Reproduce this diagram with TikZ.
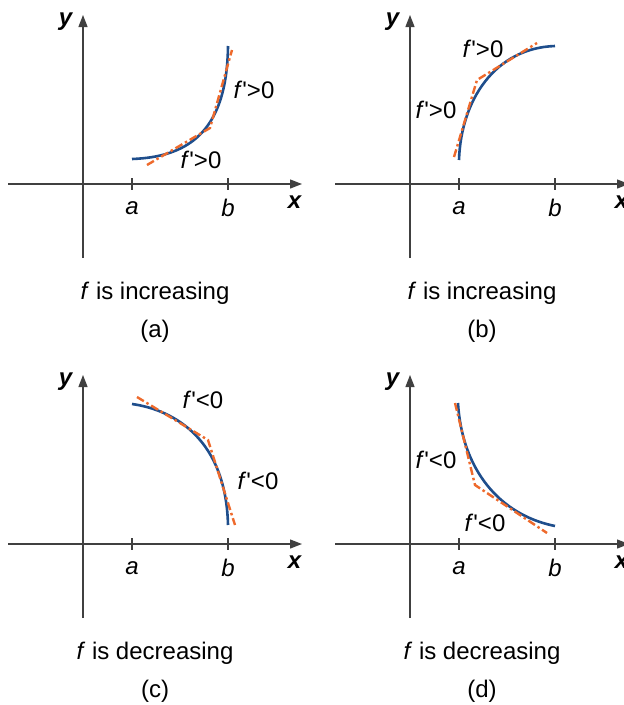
\documentclass[tikz,border=0pt]{standalone}
\usepackage{fontspec}
\setmainfont{Liberation Sans}
\usetikzlibrary{arrows.meta}

\definecolor{fblue}{HTML}{1F4E8C}
\definecolor{forange}{HTML}{EE6A2C}
\newcommand\fprime{\textit{f}\textquotesingle}

\begin{document}
\begin{tikzpicture}[
    x=1pt, y=-1pt,
    font=\fontsize{24}{28}\selectfont,
    axis/.style={line width=1.3pt, draw=black!75, -{Triangle[length=12pt, width=9pt]}},
    tickmark/.style={line width=1.3pt, draw=black!75},
    curve/.style={line width=2.6pt, draw=fblue},
    tangent/.style={line width=2.4pt, draw=forange, dash pattern=on 8pt off 3pt on 2.5pt off 3pt},
    lbl/.style={inner sep=0pt}
]
\useasboundingbox (0,0) rectangle (624,705);
\clip (0,0) rectangle (624,705);

% axes, ticks and captions of the four panels
\foreach \dx/\dy/\p/\kind in {0/0/a/increasing, 327/0/b/increasing,
                              0/360/c/decreasing, 327/360/d/decreasing} {
  \begin{scope}[shift={(\dx,\dy)}]
    \draw[axis] (8,184) -- (302,184);
    \draw[axis] (83,258) -- (83,15);
    \draw[tickmark] (132,178) -- (132,190);
    \draw[tickmark] (228,178) -- (228,190);
    \node[lbl] (ylab-\p) at (66,22)  {\textbf{\textit{y}}};
    \node[lbl] (xlab-\p) at (295,202) {\textbf{\textit{x}}};
    \node[lbl] (a-\p)    at (132,208) {\textit{a}};
    \node[lbl] (b-\p)    at (228,208) {\textit{b}};
    \node[lbl] (cap-\p)  at (155,293) {\textit{f} is \kind};
    \node[lbl] (tag-\p)  at (155,331) {(\p)};
  \end{scope}
}

% (a)
\draw[curve]   (132,159) .. controls (185,157) and (227,135) .. (228,46);
\draw[tangent] (147,165) -- (210,128) -- (232,50);
\node[lbl] (fa1) at (254,90)  {\fprime>0};
\node[lbl] (fa2) at (201,160) {\fprime>0};

% (b)
\draw[curve]   (459,160) .. controls (461,100) and (495,48) .. (555,46);
\draw[tangent] (454,157) -- (477,80) -- (537,43);
\node[lbl] (fb1) at (483,49)  {\fprime>0};
\node[lbl] (fb2) at (436,110) {\fprime>0};

% (c)
\draw[curve]   (132,404) .. controls (175,410) and (226,440) .. (228,525);
\draw[tangent] (137,397) -- (208,440) -- (235,525);
\node[lbl] (fc1) at (203,400) {\fprime<0};
\node[lbl] (fc2) at (258,481) {\fprime<0};

% (d)
\draw[curve]   (458,403) .. controls (462,470) and (500,515) .. (555,526);
\draw[tangent] (455,403) -- (475,485) -- (547,533);
\node[lbl] (fd1) at (436,460) {\fprime<0};
\node[lbl] (fd2) at (485,523) {\fprime<0};

\end{tikzpicture}
\end{document}
